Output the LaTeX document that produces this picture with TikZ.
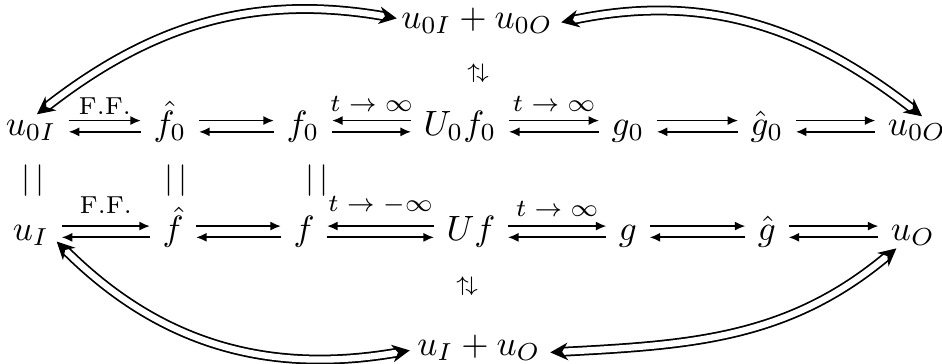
\documentclass[tikz,border=0pt]{standalone}
\usetikzlibrary{arrows.meta}

\begin{document}
\begin{tikzpicture}[x=0.01cm,y=0.01cm,line width=0.5pt,>={Latex[length=3pt,width=2.6pt]},
  every node/.style={anchor=base},
  lbl/.style={font=\scriptsize,inner sep=1pt},
  eqs/.style={anchor=center,inner sep=0pt,font=\small},
  big/.style={double,double distance=1.8pt,line width=0.5pt,
    {Stealth[length=5pt,width=5pt]}-{Stealth[length=5pt,width=5pt]}}]
  \useasboundingbox (0,0) rectangle (942,363);
  % sums
  \node (top) at (477,335) {$u_{0I} + u_{0O}$};
  \node (bot) at (479,8) {$u_I + u_O$};
  \node[eqs] (sw0) at (478,290) {$\scriptstyle\uparrow\!\downarrow$};
  \node[eqs] (sw1) at (467,77) {$\scriptstyle\uparrow\!\downarrow$};
  % upper row
  \node (u0I) at (31,228) {$u_{0I}$};
  \node (hf0) at (170,228) {$\hat f_0$};
  \node (f0) at (303,228) {$f_0$};
  \node (U0f0) at (460,228) {$U_0 f_0$};
  \node (g0) at (628,228) {$g_0$};
  \node (hg0) at (767,228) {$\hat g_0$};
  \node (u0O) at (917,228) {$u_{0O}$};
  % equalities
  \node[eqs] (e1) at (33,182) {$|\,|$};
  \node[eqs] (e2) at (176,182) {$|\,|$};
  \node[eqs] (e3) at (317,182) {$|\,|$};
  % lower row
  \node (uI) at (31,122.5) {$u_I$};
  \node (hf) at (173,122.5) {$\hat f$};
  \node (f) at (304,122.5) {$f$};
  \node (Uf) at (471,122.5) {$U f$};
  \node (g) at (628,122.5) {$g$};
  \node (hg) at (767,122.5) {$\hat g$};
  \node (uO) at (913,122.5) {$u_O$};
  % arrow pairs
  \foreach \a/\b/\r/\l in {u0I/hf0/4.1/0.9, hf0/f0/4.1/0.9, f0/U0f0/0.9/4.1,
      U0f0/g0/4.1/0.9, g0/hg0/4.1/0.9, hg0/u0O/4.1/0.9,
      uI/hf/4.1/0.9, hf/f/4.1/0.9, f/Uf/0.9/4.1,
      Uf/g/4.1/0.9, g/hg/4.1/0.9, hg/uO/4.1/0.9}
  {
    \draw[->] ([yshift=\r pt]\a.base east) -- ([yshift=\r pt]\b.base west);
    \draw[<-] ([yshift=\l pt]\a.base east) -- ([yshift=\l pt]\b.base west);
  }
  \foreach \a/\b/\d/\lab in {u0I/hf0/0.5/{F.F.}, f0/U0f0/1.3/{$t\to\infty$},
      U0f0/g0/1.3/{$t\to\infty$}, uI/hf/2.2/{F.F.},
      f/Uf/2/{$t\to-\infty$}, Uf/g/1.5/{$t\to\infty$}}
    \path ([yshift=4.1pt]\a.base east) -- ([yshift=4.1pt]\b.base west)
      node[lbl,midway,above=\d pt]{\lab};
  % big loops
  \draw[big] ([shift={(6,-7)}]u0I.north) to[out=38,in=170] ([shift={(8,2)}]top.west);
  \draw[big] ([shift={(-4,-2)}]top.east) to[out=12,in=142] ([shift={(5,-9)}]u0O.north);
  \draw[big] ([shift={(-5,-6)}]uI.east) to[out=-45,in=190] ([shift={(5,-3)}]bot.west);
  \draw[big] ([shift={(-3,-5)}]bot.east) to[out=3,in=220] ([shift={(18,10)}]uO.south west);
\end{tikzpicture}
\end{document}
